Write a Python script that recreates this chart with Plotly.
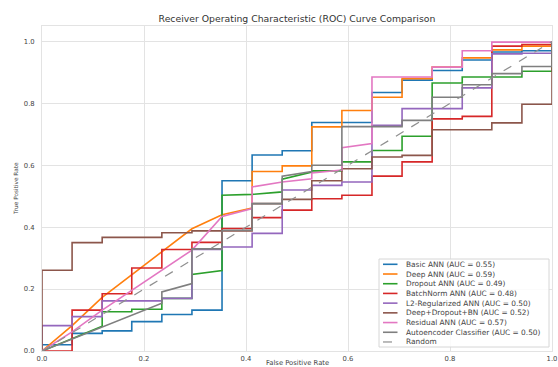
import plotly.graph_objects as go

# ---- ROC curve vertices (false positive rate, true positive rate) ----
model_names = ["Basic ANN", "Deep ANN", "Dropout ANN", "BatchNorm ANN",
               "L2-Regularized ANN", "Deep+Dropout+BN", "Residual ANN",
               "Autoencoder Classifier"]
auc_values = [0.55, 0.59, 0.49, 0.48, 0.50, 0.52, 0.57, 0.50]
line_colors = ["#1f77b4", "#ff7f0e", "#2ca02c", "#d62728",
               "#9467bd", "#8c564b", "#e377c2", "#7f7f7f"]

fpr_basic = [0.0, 0.0, 0.059, 0.059, 0.118, 0.118, 0.176, 0.176, 0.235, 0.235, 0.294, 0.294,
             0.353, 0.353, 0.412, 0.412, 0.471, 0.471, 0.529, 0.529, 0.647, 0.647, 0.706, 0.706,
             0.765, 0.765, 0.824, 0.824, 0.882, 0.882, 0.941, 0.941, 1.0, 1.0]
tpr_basic = [0.0, 0.02, 0.02, 0.057, 0.057, 0.065, 0.065, 0.095, 0.095, 0.118, 0.118, 0.132,
             0.132, 0.55, 0.55, 0.633, 0.633, 0.647, 0.647, 0.738, 0.738, 0.835, 0.835, 0.875,
             0.875, 0.906, 0.906, 0.94, 0.94, 0.966, 0.966, 0.97, 0.97, 1.0]

fpr_deep = [0.0, 0.059, 0.118, 0.294, 0.353, 0.412, 0.412, 0.471, 0.471, 0.529, 0.529, 0.588,
            0.588, 0.647, 0.647, 0.706, 0.706, 0.765, 0.765, 0.824, 0.824, 0.882, 0.882, 0.941,
            0.941, 1.0, 1.0]
tpr_deep = [0.0, 0.082, 0.173, 0.395, 0.44, 0.462, 0.58, 0.58, 0.598, 0.598, 0.724, 0.724,
            0.777, 0.777, 0.82, 0.82, 0.88, 0.88, 0.917, 0.917, 0.947, 0.947, 0.973, 0.973,
            0.985, 0.985, 1.0]

fpr_dropout = [0.0, 0.118, 0.118, 0.176, 0.176, 0.235, 0.235, 0.294, 0.294, 0.353, 0.353, 0.412,
               0.471, 0.471, 0.529, 0.529, 0.588, 0.588, 0.647, 0.647, 0.706, 0.706, 0.765, 0.765,
               0.824, 0.824, 0.941, 0.941, 1.0, 1.0]
tpr_dropout = [0.0, 0.08, 0.127, 0.127, 0.135, 0.135, 0.17, 0.17, 0.247, 0.26, 0.503, 0.506,
               0.514, 0.555, 0.578, 0.582, 0.582, 0.611, 0.611, 0.648, 0.648, 0.694, 0.694, 0.866,
               0.866, 0.885, 0.885, 0.904, 0.904, 1.0]

fpr_batchnorm = [0.0, 0.059, 0.059, 0.118, 0.118, 0.176, 0.176, 0.235, 0.235, 0.294, 0.294, 0.353,
                 0.353, 0.412, 0.412, 0.471, 0.471, 0.529, 0.529, 0.588, 0.588, 0.647, 0.647,
                 0.706, 0.706, 0.765, 0.765, 0.824, 0.824, 0.882, 0.882, 0.941, 0.941, 1.0, 1.0]
tpr_batchnorm = [0.0, 0.0, 0.132, 0.132, 0.185, 0.185, 0.268, 0.268, 0.328, 0.328, 0.351, 0.351,
                 0.396, 0.396, 0.431, 0.431, 0.455, 0.455, 0.492, 0.492, 0.503, 0.503, 0.565,
                 0.565, 0.611, 0.611, 0.75, 0.75, 0.758, 0.758, 0.985, 0.985, 0.99, 0.99, 1.0]

fpr_l2 = [0.0, 0.0, 0.059, 0.059, 0.118, 0.118, 0.235, 0.235, 0.294, 0.294, 0.353, 0.353,
          0.412, 0.412, 0.471, 0.471, 0.529, 0.529, 0.588, 0.588, 0.647, 0.647, 0.706, 0.706,
          0.824, 0.824, 0.882, 0.882, 0.941, 0.941, 1.0, 1.0]
tpr_l2 = [0.0, 0.082, 0.082, 0.111, 0.111, 0.162, 0.162, 0.17, 0.17, 0.328, 0.328, 0.336,
          0.336, 0.38, 0.38, 0.52, 0.52, 0.535, 0.535, 0.546, 0.546, 0.729, 0.729, 0.783,
          0.783, 0.85, 0.85, 0.96, 0.96, 0.962, 0.962, 1.0]

fpr_ddbn = [0.0, 0.0, 0.059, 0.059, 0.118, 0.118, 0.235, 0.235, 0.294, 0.294, 0.412, 0.412,
            0.471, 0.471, 0.529, 0.529, 0.588, 0.588, 0.647, 0.647, 0.706, 0.706, 0.765, 0.765,
            0.882, 0.882, 0.941, 0.941, 1.0, 1.0]
tpr_ddbn = [0.0, 0.261, 0.261, 0.35, 0.35, 0.367, 0.367, 0.382, 0.382, 0.388, 0.388, 0.476,
            0.476, 0.49, 0.49, 0.55, 0.55, 0.589, 0.589, 0.627, 0.627, 0.632, 0.632, 0.715,
            0.715, 0.737, 0.737, 0.797, 0.797, 1.0]

fpr_residual = [0.0, 0.059, 0.118, 0.294, 0.353, 0.412, 0.412, 0.471, 0.529, 0.529, 0.588,
                0.588, 0.647, 0.647, 0.765, 0.765, 0.824, 0.824, 0.882, 0.882, 1.0, 1.0]
tpr_residual = [0.0, 0.062, 0.132, 0.326, 0.435, 0.46, 0.53, 0.546, 0.556, 0.575, 0.585,
                0.657, 0.67, 0.885, 0.885, 0.917, 0.917, 0.97, 0.97, 0.998, 0.998, 1.0]

fpr_autoenc = [0.0, 0.235, 0.235, 0.294, 0.294, 0.353, 0.353, 0.412, 0.412, 0.471, 0.471, 0.529,
               0.529, 0.588, 0.588, 0.706, 0.706, 0.765, 0.765, 0.824, 0.824, 0.882, 0.882,
               0.941, 0.941, 1.0, 1.0]
tpr_autoenc = [0.0, 0.154, 0.191, 0.218, 0.33, 0.33, 0.39, 0.39, 0.476, 0.476, 0.565, 0.58,
               0.6, 0.6, 0.725, 0.725, 0.745, 0.745, 0.82, 0.82, 0.86, 0.86, 0.896, 0.896,
               0.919, 0.919, 1.0]

fpr_random = [0.0, 1.0]
tpr_random = [0.0, 1.0]

curves = [(fpr_basic, tpr_basic), (fpr_deep, tpr_deep), (fpr_dropout, tpr_dropout),
          (fpr_batchnorm, tpr_batchnorm), (fpr_l2, tpr_l2), (fpr_ddbn, tpr_ddbn),
          (fpr_residual, tpr_residual), (fpr_autoenc, tpr_autoenc)]

tick_values = [0.0, 0.2, 0.4, 0.6, 0.8, 1.0]

# ---- figure geometry ----
W, H = 558, 367
ML, MR, MT, MB = 42, 6, 26, 16
PW, PH = W - ML - MR, H - MT - MB
FONT = "DejaVu Sans"
TEXT = "#444444"
GRID = "#e3e3e3"
RANDOM_COLOR = "#8f8f8f"

fig = go.Figure()

labels = [f"{n} (AUC = {a:.2f})" for n, a in zip(model_names, auc_values)]
for (fx, ty), lab, col in zip(curves, labels, line_colors):
    fig.add_trace(go.Scatter(x=fx, y=ty, mode="lines", name=lab,
                             line=dict(color=col, width=1.6), showlegend=False))
fig.add_trace(go.Scatter(x=fpr_random, y=tpr_random, mode="lines", name="Random",
                         line=dict(color=RANDOM_COLOR, width=1.2, dash="dash"),
                         showlegend=False))


def px_to_paper(px, py):
    return (px - ML) / PW, (H - MB - py) / PH


# ---- legend box drawn in paper coordinates ----
shapes, annotations = [], []
bx0, by0 = px_to_paper(379, 347)
bx1, by1 = px_to_paper(549, 259)
shapes.append(dict(type="rect", xref="paper", yref="paper", x0=bx0, y0=by0, x1=bx1, y1=by1,
                   line=dict(color="#d6d6d6", width=1), fillcolor="rgba(255,255,255,0.85)",
                   layer="above"))
legend_entries = list(zip(labels, line_colors, ["solid"] * 8)) + [("Random", RANDOM_COLOR, "dash")]
row0, row_gap = 264.3, 9.71
for i, (lab, col, dash) in enumerate(legend_entries):
    py = row0 + i * row_gap
    lx0, ly = px_to_paper(383, py)
    lx1, _ = px_to_paper(397.5, py)
    shapes.append(dict(type="line", xref="paper", yref="paper", x0=lx0, x1=lx1, y0=ly, y1=ly,
                       line=dict(color=col, width=1.6 if dash == "solid" else 1.2, dash=dash),
                       layer="above"))
    tx, _ = px_to_paper(403.5, py)
    annotations.append(dict(xref="paper", yref="paper", x=tx, y=ly, text=lab, showarrow=False,
                            xanchor="left", yanchor="middle",
                            font=dict(family=FONT, size=7.4, color=TEXT)))

# axis titles
ax_x, _ = px_to_paper(15.5, 0)
annotations.append(dict(xref="paper", yref="paper", x=ax_x, y=0.5, text="True Positive Rate",
                        textangle=-90, showarrow=False, xanchor="center", yanchor="middle",
                        font=dict(family=FONT, size=5.8, color=TEXT)))
_, xt_y = px_to_paper(0, 357.5)
annotations.append(dict(xref="paper", yref="paper", x=0.5, y=xt_y, text="False Positive Rate",
                        showarrow=False, xanchor="center", yanchor="top", borderpad=0,
                        font=dict(family=FONT, size=6.8, color=TEXT)))

axis_common = dict(tickvals=tick_values, tickformat=".1f", showgrid=True, gridcolor=GRID,
                   gridwidth=1, zeroline=False, showline=True, linecolor=GRID, linewidth=1,
                   mirror=True, ticks="", tickfont=dict(family=FONT, size=6.8, color=TEXT))

fig.update_layout(
    width=W, height=H,
    margin=dict(l=ML, r=MR, t=MT, b=MB, autoexpand=False),
    paper_bgcolor="white", plot_bgcolor="white",
    title=dict(text="Receiver Operating Characteristic (ROC) Curve Comparison",
               x=(ML + PW / 2) / W, xanchor="center", y=1 - 19 / H, yanchor="middle",
               yref="container", font=dict(family=FONT, size=9.3, color="#333333")),
    xaxis=dict(range=[0, 1], ticklabelstandoff=1, **axis_common),
    yaxis=dict(range=[0, 1.05], ticklabelstandoff=5, **axis_common),
    shapes=shapes, annotations=annotations,
    showlegend=False,
)

fig.write_html("out.html")
